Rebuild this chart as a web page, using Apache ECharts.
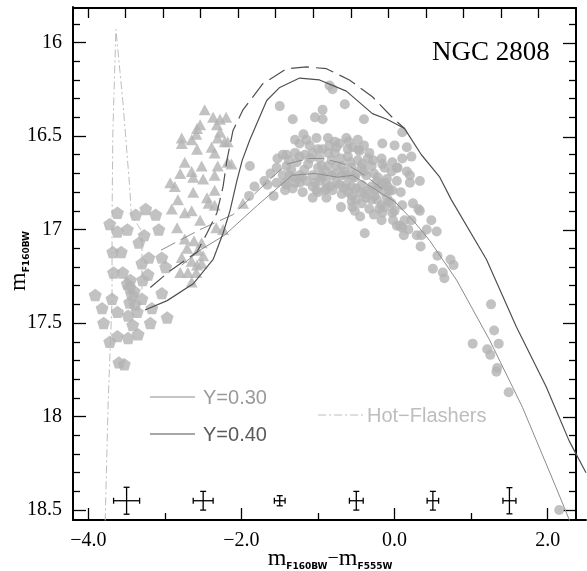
<!DOCTYPE html>
<html><head><meta charset="utf-8">
<script src="https://cdn.jsdelivr.net/npm/echarts@6/dist/echarts.min.js"></script>
<style>html,body{margin:0;padding:0;background:#fff}#c{width:587px;height:571px}</style>
</head><body><div id="c"></div>
<script>
// ---------- data ----------
var circles = [
[-0.85,16.23],[-0.81,16.25],[-1.50,16.34],[-0.65,16.33],[-0.94,16.36],[-1.04,16.40],[-0.94,16.41],[-1.33,16.41],[-0.40,16.41],[0.10,16.48],
[-1.89,16.66],[-1.83,16.77],[-1.90,16.82],[-1.66,16.76],[-1.58,16.82],
[-1.19,16.49],[-1.30,16.52],[-1.24,16.54],[-1.11,16.55],[-1.02,16.51],[-0.87,16.51],[-0.78,16.53],[-0.72,16.54],[-0.63,16.51],[-0.55,16.56],[-0.48,16.52],[-0.47,16.57],[-0.16,16.54],[0.00,16.55],[0.16,16.56],[0.22,16.61],
[-1.46,16.60],[-1.53,16.62],[-1.41,16.60],[-1.30,16.59],[-1.24,16.61],[-1.17,16.60],[-1.07,16.59],[-1.00,16.57],[-0.94,16.57],[-0.87,16.59],[-0.78,16.59],[-0.76,16.56],[-0.61,16.57],[-0.61,16.61],[-0.48,16.63],[-0.46,16.58],[-0.33,16.59],[-0.35,16.62],[-0.17,16.62],
[-1.54,16.67],[-1.41,16.66],[-1.28,16.64],[-1.13,16.65],[-1.00,16.67],[-0.95,16.66],[-0.87,16.66],[-0.82,16.63],[-0.76,16.66],[-0.69,16.66],[-0.56,16.67],[-0.43,16.67],[-0.42,16.65],[-0.30,16.66],[-0.13,16.67],[-0.16,16.65],[-0.03,16.64],[0.03,16.67],
[-1.46,16.71],[-1.33,16.72],[-1.24,16.71],[-1.21,16.72],[-1.07,16.71],[-0.95,16.71],[-0.94,16.72],[-0.82,16.71],[-0.78,16.70],[-0.69,16.71],[-0.63,16.71],[-0.56,16.72],[-0.52,16.72],[-0.37,16.71],[-0.23,16.74],[-0.22,16.72],[-0.10,16.73],[-0.04,16.69],[0.03,16.74],[0.20,16.71],[0.33,16.74],
[-1.54,16.75],[-1.43,16.75],[-1.41,16.76],[-1.37,16.71],[-1.24,16.75],[-1.07,16.77],[-1.04,16.75],[-0.89,16.75],[-0.89,16.78],[-0.76,16.75],[-0.72,16.76],[-0.63,16.76],[-0.56,16.77],[-0.50,16.78],[-0.43,16.76],[-0.35,16.79],[-0.30,16.77],[-0.20,16.77],[-0.17,16.76],[-0.09,16.77],[-0.07,16.79],
[-1.43,16.79],[-1.33,16.78],[-1.02,16.79],[-1.00,16.80],[-0.91,16.79],[-0.81,16.79],[-0.89,16.83],[-1.07,16.83],[-0.69,16.81],[-0.56,16.82],[-0.39,16.81],[-0.37,16.83],[-0.26,16.82],[-0.23,16.84],[-0.13,16.80],[-0.10,16.83],[-0.03,16.79],[-0.04,16.86],
[-0.56,16.85],[-0.50,16.84],[-0.43,16.86],[-0.17,16.87],[-0.07,16.85],[0.00,16.90],[-0.55,16.88],[-0.52,16.90],[-0.33,16.89],[-0.20,16.89],[-0.16,16.91],[-0.13,16.88],[0.33,16.90],
[-0.17,16.95],[-0.03,16.91],[0.03,16.98],[0.10,16.99],[0.13,16.95],[0.12,17.03],[0.22,16.95],[0.31,16.89],[0.48,16.95],[0.55,17.01],[-0.39,17.02],[0.29,17.03],[0.35,17.03],[0.34,17.09],[0.56,17.14],[0.50,17.21],[0.63,17.23],[0.65,17.26],[0.73,17.16],[0.77,17.19],[0.20,16.75],[0.16,16.69],[0.04,16.67],[0.07,16.98],
[-1.35,16.68],[-1.18,16.68],[-1.10,16.62],[-0.98,16.62],[-0.90,16.69],[-0.70,16.62],[-0.66,16.69],[-0.58,16.64],[-0.50,16.70],[-0.40,16.69],[-0.27,16.70],[-0.25,16.79],[-0.30,16.84],[-0.45,16.80],[-0.60,16.80],[-0.66,16.78],[-0.84,16.77],[-0.98,16.74],[-1.15,16.74],[-1.30,16.75],
[-1.20,16.80],[-0.12,16.75],[0.08,16.80],[0.10,16.87],[-0.02,16.95],[0.24,16.86],[-0.60,16.53],[-0.85,16.55],[-1.15,16.52],[-0.40,16.55],[-0.28,16.63],[0.10,16.62],[-1.38,16.63],[-0.70,16.88],[-0.45,16.93],[-0.27,16.92],[0.18,17.00],[0.42,17.00],[-1.62,16.70],[-1.70,16.74],
[1.26,17.40],[1.30,17.54],[1.02,17.61],[1.21,17.64],[1.25,17.67],[1.36,17.61],[1.34,17.74],[1.33,17.76],[1.49,17.87],[2.15,18.50]
];
var triangles = [
[-2.48,16.36],[-2.37,16.40],[-2.28,16.41],[-2.20,16.40],[-2.54,16.44],[-2.58,16.46],[-2.32,16.44],[-2.28,16.48],[-2.59,16.49],[-2.78,16.51],
[-2.65,16.52],[-2.31,16.51],[-2.78,16.54],[-2.58,16.57],[-2.39,16.56],[-2.22,16.53],[-2.35,16.59],[-2.74,16.64],[-2.52,16.66],[-2.31,16.66],
[-2.18,16.64],[-2.13,16.65],[-2.80,16.70],[-2.65,16.69],[-2.63,16.72],[-2.50,16.73],[-2.35,16.71],[-2.93,16.75],[-2.87,16.77],[-2.63,16.80],
[-2.35,16.79],[-2.45,16.83],[-2.83,16.84],[-2.43,16.86],[-2.35,16.87],[-2.91,16.89],[-2.74,16.91],[-2.65,16.90],[-2.54,16.95],[-2.84,16.99],
[-2.33,16.99],[-2.24,17.00],[-2.74,17.05],[-2.62,17.06],[-2.52,17.07],[-2.71,17.10],[-2.57,17.11],[-2.50,17.14],[-2.78,17.15],[-2.65,17.17],
[-2.58,17.19],[-2.52,17.18],[-2.80,17.23],[-2.70,17.23],[-2.59,17.23],[-2.65,17.28],[-1.98,16.86],[-2.18,16.53]
];
var pentagons = [
[-3.91,17.35],[-3.82,17.42],[-3.80,17.50],[-3.72,17.60],[-3.72,16.97],[-3.69,17.37],[-3.68,17.12],[-3.67,17.23],[-3.62,16.91],[-3.62,17.01],
[-3.62,17.44],[-3.62,17.57],[-3.60,17.71],[-3.53,17.72],[-3.57,17.12],[-3.55,17.23],[-3.49,17.00],[-3.49,17.29],[-3.48,17.46],[-3.48,17.58],
[-3.46,17.31],[-3.46,17.39],[-3.43,17.35],[-3.42,17.51],[-3.38,16.92],[-3.36,17.44],[-3.35,17.56],[-3.34,17.07],[-3.30,17.18],[-3.30,17.37],
[-3.29,17.27],[-3.27,17.03],[-3.25,16.89],[-3.22,17.24],[-3.21,17.15],[-3.19,17.50],[-3.17,17.42],[-3.12,16.92],[-3.08,17.00],[-3.04,17.15],
[-3.04,17.34],[-2.99,17.20],[-2.97,17.47],[-3.39,17.40],[-3.45,17.27],[-3.40,17.33]
];
// model curves
var y40Solid = [[-3.26,17.43],[-2.97,17.38],[-2.63,17.29],[-2.37,17.16],[-2.24,17.02],[-2.15,16.90],[-2.06,16.74],[-1.99,16.63],[-1.89,16.52],[-1.67,16.31],[-1.50,16.24],[-1.24,16.19],[-0.98,16.20],[-0.63,16.26],[-0.29,16.38],[-0.10,16.41],[0.13,16.46],[0.35,16.60],[0.59,16.72],[0.74,16.84],[1.20,17.16],[1.59,17.52],[1.98,17.84],[2.28,18.13],[2.50,18.30]];
var y40Dash = [[-3.19,17.31],[-2.93,17.22],[-2.58,17.12],[-2.45,17.02],[-2.32,16.91],[-2.24,16.77],[-2.19,16.63],[-2.11,16.47],[-1.98,16.36],[-1.72,16.22],[-1.41,16.14],[-1.15,16.13],[-0.89,16.14],[-0.59,16.20],[-0.29,16.29],[-0.03,16.40],[0.13,16.46]];
var y30Solid = [[-2.78,17.19],[-2.54,17.11],[-2.22,17.03],[-1.79,16.87],[-1.34,16.71],[-1.04,16.70],[-0.74,16.72],[-0.55,16.71],[-0.35,16.76],[-0.16,16.81],[0.00,16.85],[0.26,16.96],[0.46,17.06],[0.81,17.27],[1.24,17.59],[1.67,17.95],[2.11,18.38],[2.28,18.55],[2.35,18.63]];
var y30Dash = [[-3.05,17.11],[-2.54,17.00],[-2.11,16.92],[-1.60,16.72],[-1.40,16.65],[-1.13,16.62],[-0.94,16.62],[-0.74,16.64],[-0.59,16.66],[-0.39,16.71],[-0.20,16.77],[-0.13,16.79]];
var hotFlashers = [[-3.78,18.56],[-3.74,17.91],[-3.69,17.38],[-3.69,16.95],[-3.68,16.49],[-3.64,15.93],[-3.55,16.31],[-3.46,16.77],[-3.44,16.91],[-3.38,16.96],[-3.30,17.01],[-3.30,17.32]];
// error bars
var errX  = [-3.5, -2.5, -1.5, -0.5, 0.5, 1.5];
var errY  = [18.45, 18.45, 18.45, 18.45, 18.45, 18.45];
var errDx = [0.17, 0.13, 0.07, 0.09, 0.075, 0.085];
var errDy = [0.072, 0.05, 0.027, 0.05, 0.05, 0.07];
// ticks
var xTickLabels = [-4, -2, 0, 2];
var xMinorBottom = [-3, -1, 1];
var xTopTicks = [-4, -3.5, -3, -2.5, -2, -1.5, -1, -0.5, 0, 0.5, 1, 1.5, 2];
var yTickLabels = [16, 16.5, 17, 17.5, 18, 18.5];
var yMinorTicks = [15.9, 16.1, 16.2, 16.3, 16.4, 16.6, 16.7, 16.8, 16.9, 17.1, 17.2, 17.3, 17.4, 17.6, 17.7, 17.8, 17.9, 18.1, 18.2, 18.3, 18.4];

// ---------- chart ----------
var X_MIN = -4.2, X_MAX = 2.5, Y_MIN = 15.81, Y_MAX = 18.553;
var serif = 'Liberation Serif', sans = 'Liberation Sans';
var ptColor = '#b3b3b3';
var chart = echarts.init(document.getElementById('c'), null, {renderer: 'canvas'});

var gridBox = {left: 73, right: 1, top: 7, bottom: 51};
var frameLine = {show: true, onZero: false, lineStyle: {color: '#000', width: 2}};
var noLine = {show: false, onZero: false};
var tickStyle = {color: '#000', width: 1.3};
function blankLabels(vals) { return {show: true, customValues: vals, formatter: function () { return ''; }}; }
function xAx(g, pos, line, tickVals, tickLen, label) {
  return {type: 'value', gridIndex: g, position: pos, min: X_MIN, max: X_MAX, splitLine: {show: false},
    axisLine: line, axisTick: {show: true, inside: true, length: tickLen, customValues: tickVals, lineStyle: tickStyle},
    axisLabel: label || blankLabels(tickVals)};
}
function yAx(g, pos, line, tickVals, tickLen, label) {
  return {type: 'value', gridIndex: g, position: pos, min: Y_MIN, max: Y_MAX, inverse: true, splitLine: {show: false},
    axisLine: line, axisTick: {show: true, inside: true, length: tickLen, customValues: tickVals, lineStyle: tickStyle},
    axisLabel: label || blankLabels(tickVals)};
}

var errData = errX.map(function (x, i) { return [x, errY[i], errDx[i], errDy[i]]; });

var option = {
  animation: false,
  backgroundColor: '#fff',
  grid: [Object.assign({}, gridBox), Object.assign({}, gridBox), Object.assign({}, gridBox), Object.assign({}, gridBox)],
  xAxis: [
    xAx(0, 'bottom', frameLine, xTickLabels, 12, {show: true, customValues: xTickLabels, margin: 11, color: '#000',
      fontFamily: serif, fontSize: 20, formatter: function (v) { return (v < 0 ? '\u2212' : '') + Math.abs(v).toFixed(1); }}),
    xAx(1, 'bottom', noLine, xMinorBottom, 7),
    xAx(2, 'top', frameLine, xTopTicks, 10),
    xAx(3, 'bottom', noLine, [], 0)
  ],
  yAxis: [
    yAx(0, 'left', frameLine, yTickLabels, 13, {show: true, customValues: yTickLabels, margin: 11, color: '#000',
      fontFamily: serif, fontSize: 20}),
    yAx(1, 'left', noLine, yMinorTicks, 7),
    yAx(2, 'right', frameLine, yTickLabels, 13),
    yAx(3, 'right', noLine, yMinorTicks, 7)
  ],
  series: [
    {type: 'scatter', data: [], xAxisIndex: 1, yAxisIndex: 1, silent: true},
    {type: 'scatter', data: [], xAxisIndex: 2, yAxisIndex: 2, silent: true},
    {type: 'scatter', data: [], xAxisIndex: 3, yAxisIndex: 3, silent: true},
    {type: 'line', name: 'Hot-Flashers', data: hotFlashers, showSymbol: false, z: 1,
      lineStyle: {color: '#bdbdbd', width: 1, type: [8, 3, 2, 3]}},
    {type: 'scatter', data: circles, symbol: 'circle', symbolSize: 10, itemStyle: {color: ptColor}, z: 2},
    {type: 'scatter', data: triangles, symbol: 'triangle', symbolSize: [12, 11], itemStyle: {color: ptColor}, z: 2},
    {type: 'scatter', data: pentagons, symbol: 'path://M0,-1L0.951,-0.309L0.588,0.809L-0.588,0.809L-0.951,-0.309Z',
      symbolSize: [13, 12.4], itemStyle: {color: ptColor}, z: 2},
    {type: 'line', name: 'Y=0.30', data: y30Solid, showSymbol: false, z: 3, lineStyle: {color: '#8c8c8c', width: 1}},
    {type: 'line', name: 'Y=0.30 dash', data: y30Dash, showSymbol: false, z: 3, lineStyle: {color: '#8c8c8c', width: 1, type: [16, 6]}},
    {type: 'line', name: 'Y=0.40', data: y40Solid, showSymbol: false, z: 3, lineStyle: {color: '#505050', width: 1.2}},
    {type: 'line', name: 'Y=0.40 dash', data: y40Dash, showSymbol: false, z: 3, lineStyle: {color: '#505050', width: 1.2, type: [18, 7]}},
    {type: 'custom', data: errData, z: 4,
      renderItem: function (params, api) {
        var x = api.value(0), y = api.value(1), dx = api.value(2), dy = api.value(3);
        var c = api.coord([x, y]), l = api.coord([x - dx, y]), r = api.coord([x + dx, y]);
        var t = api.coord([x, y - dy]), b = api.coord([x, y + dy]);
        var cap = 3, st = {stroke: '#000', lineWidth: 1.3};
        return {type: 'group', children: [
          {type: 'line', shape: {x1: l[0], y1: c[1], x2: r[0], y2: c[1]}, style: st},
          {type: 'line', shape: {x1: c[0], y1: t[1], x2: c[0], y2: b[1]}, style: st},
          {type: 'line', shape: {x1: l[0], y1: c[1] - cap, x2: l[0], y2: c[1] + cap}, style: st},
          {type: 'line', shape: {x1: r[0], y1: c[1] - cap, x2: r[0], y2: c[1] + cap}, style: st},
          {type: 'line', shape: {x1: c[0] - cap, y1: t[1], x2: c[0] + cap, y2: t[1]}, style: st},
          {type: 'line', shape: {x1: c[0] - cap, y1: b[1], x2: c[0] + cap, y2: b[1]}, style: st}
        ]};
      }}
  ],
  graphic: [
    {type: 'text', left: 432, top: 39, style: {text: 'NGC 2808', fontFamily: serif, fontSize: 27, fill: '#000'}},
    {type: 'line', shape: {x1: 150, y1: 397, x2: 195, y2: 397}, style: {stroke: '#8c8c8c', lineWidth: 1}},
    {type: 'text', x: 203, y: 398, style: {text: 'Y=0.30', fontFamily: sans, fontSize: 20, fill: '#9a9a9a', verticalAlign: 'middle'}},
    {type: 'line', shape: {x1: 150, y1: 434, x2: 195, y2: 434}, style: {stroke: '#505050', lineWidth: 1.2}},
    {type: 'text', x: 203, y: 435, style: {text: 'Y=0.40', fontFamily: sans, fontSize: 20, fill: '#5a5a5a', verticalAlign: 'middle'}},
    {type: 'line', shape: {x1: 318, y1: 415, x2: 365, y2: 415}, style: {stroke: '#bdbdbd', lineWidth: 1, lineDash: [8, 3, 2, 3]}},
    {type: 'text', x: 367, y: 416, style: {text: 'Hot\u2212Flashers', fontFamily: sans, fontSize: 20, fill: '#bdbdbd', verticalAlign: 'middle'}},
    {type: 'text', x: 330, y: 559, style: {text: '{m|m}{s|F160BW}{d|\u2212}{m|m}{s|F555W}', align: 'center', verticalAlign: 'middle',
      rich: {m: {fontFamily: serif, fontSize: 24, fill: '#000'}, d: {fontFamily: serif, fontSize: 20, fill: '#000'},
             s: {fontFamily: 'DejaVu Sans', fontWeight: 'bold', fontSize: 9, fill: '#000', verticalAlign: 'bottom'}}}},
    {type: 'text', x: 19, y: 261, rotation: Math.PI / 2, style: {text: '{m|m}{s|F160BW}', align: 'center', verticalAlign: 'middle',
      rich: {m: {fontFamily: serif, fontSize: 24, fill: '#000'},
             s: {fontFamily: 'DejaVu Sans', fontWeight: 'bold', fontSize: 9, fill: '#000', verticalAlign: 'bottom'}}}}
  ]
};
chart.setOption(option);
</script></body></html>
